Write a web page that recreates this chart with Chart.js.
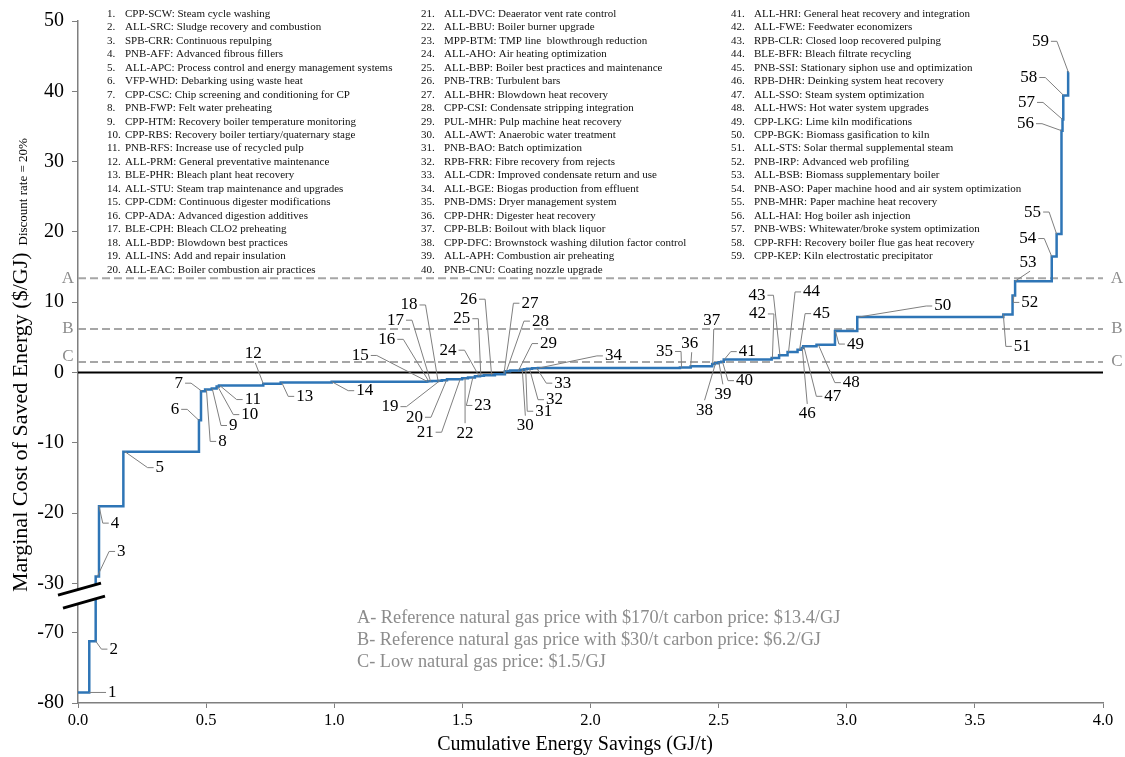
<!DOCTYPE html>
<html>
<head>
<meta charset="utf-8">
<script src="https://cdn.jsdelivr.net/npm/chart.js@4.4.1/dist/chart.umd.min.js"></script>
<style>
  html, body { margin: 0; padding: 0; background: #fff; }
  #wrap { width: 1125px; height: 757px; position: relative; }
</style>
</head>
<body>
<div id="wrap"><canvas id="chart" width="1125" height="757"></canvas></div>
<script>
// measures, in the order they are stacked on the curve
const measures = [
  "CPP-SCW: Steam cycle washing", "ALL-SRC: Sludge recovery and combustion", "SPB-CRR: Continuous repulping",
  "PNB-AFF: Advanced fibrous fillers", "ALL-APC: Process control and energy management systems",
  "VFP-WHD: Debarking using waste heat", "CPP-CSC: Chip screening and conditioning for CP",
  "PNB-FWP: Felt water preheating", "CPP-HTM: Recovery boiler temperature monitoring",
  "CPP-RBS: Recovery boiler tertiary/quaternary stage", "PNB-RFS: Increase use of recycled pulp",
  "ALL-PRM: General preventative maintenance", "BLE-PHR: Bleach plant heat recovery",
  "ALL-STU: Steam trap maintenance and upgrades", "CPP-CDM: Continuous digester modifications",
  "CPP-ADA: Advanced digestion additives", "BLE-CPH: Bleach CLO2 preheating", "ALL-BDP: Blowdown best practices",
  "ALL-INS: Add and repair insulation", "ALL-EAC: Boiler combustion air practices",
  "ALL-DVC: Deaerator vent rate control", "ALL-BBU: Boiler burner upgrade", "MPP-BTM: TMP line  blowthrough reduction",
  "ALL-AHO: Air heating optimization", "ALL-BBP: Boiler best practices and maintenance", "PNB-TRB: Turbulent bars",
  "ALL-BHR: Blowdown heat recovery", "CPP-CSI: Condensate stripping integration", "PUL-MHR: Pulp machine heat recovery",
  "ALL-AWT: Anaerobic water treatment", "PNB-BAO: Batch optimization", "RPB-FRR: Fibre recovery from rejects",
  "ALL-CDR: Improved condensate return and use", "ALL-BGE: Biogas production from effluent",
  "PNB-DMS: Dryer management system", "CPP-DHR: Digester heat recovery", "CPP-BLB: Boilout with black liquor",
  "CPP-DFC: Brownstock washing dilution factor control", "ALL-APH: Combustion air preheating",
  "PNB-CNU: Coating nozzle upgrade", "ALL-HRI: General heat recovery and integration", "ALL-FWE: Feedwater economizers",
  "RPB-CLR: Closed loop recovered pulping", "BLE-BFR: Bleach filtrate recycling",
  "PNB-SSI: Stationary siphon use and optimization", "RPB-DHR: Deinking system heat recovery",
  "ALL-SSO: Steam system optimization", "ALL-HWS: Hot water system upgrades", "CPP-LKG: Lime kiln modifications",
  "CPP-BGK: Biomass gasification to kiln", "ALL-STS: Solar thermal supplemental steam", "PNB-IRP: Advanced web profiling",
  "ALL-BSB: Biomass supplementary boiler", "PNB-ASO: Paper machine hood and air system optimization",
  "PNB-MHR: Paper machine heat recovery", "ALL-HAI: Hog boiler ash injection",
  "PNB-WBS: Whitewater/broke system optimization", "CPP-RFH: Recovery boiler flue gas heat recovery",
  "CPP-KEP: Kiln electrostatic precipitator"
];

// cumulative savings at the end of each measure (GJ/t)
const cumSavings = [
  0.044, 0.069, 0.082, 0.177, 0.472, 0.480, 0.496, 0.522, 0.541, 0.550,
  0.723, 0.791, 0.990, 1.360, 1.366, 1.372, 1.381, 1.405, 1.420, 1.440,
  1.499, 1.522, 1.549, 1.569, 1.584, 1.627, 1.666, 1.686, 1.725, 1.740,
  1.752, 1.772, 1.795, 2.349, 2.391, 2.475, 2.485, 2.500, 2.510, 2.520,
  2.707, 2.736, 2.769, 2.808, 2.824, 2.830, 2.882, 2.954, 3.041, 3.611,
  3.647, 3.657, 3.800, 3.819, 3.838, 3.842, 3.845, 3.864, 3.866
];

// marginal cost of saved energy ($/GJ)
const costs = [
  -78.5, -71.2, -29.0, -19.0, -11.25, -6.8, -2.65, -2.4, -2.27, -2.0,
  -1.85, -1.6, -1.4, -1.3, -1.27, -1.25, -1.23, -1.2, -1.15, -1.1,
  -0.95, -0.8, -0.7, -0.52, -0.45, -0.38, -0.24, 0.2, 0.28, 0.4,
  0.47, 0.55, 0.62, 0.66, 0.72, 0.9, 1.2, 1.32, 1.45, 1.55,
  1.84, 2.08, 2.46, 2.93, 3.26, 3.5, 3.73, 3.97, 5.9, 7.9,
  8.27, 10.97, 13.0, 16.5, 19.7, 34.4, 36.0, 39.4, 42.7
];

const yTickValues = [50, 40, 30, 20, 10, 0, -10, -20, -30, -70, -80];
const xTickStep = 0.5;

const refLetters = ["A", "B", "C"];
const refPrices = [13.4, 6.2, 1.5];
const refNotes = [
  "A- Reference natural gas price with $170/t carbon price: $13.4/GJ",
  "B- Reference natural gas price with $30/t carbon price: $6.2/GJ",
  "C- Low natural gas price: $1.5/GJ"
];

// label placement: [fraction along step, dx, dy, side the leader attaches to]
const labelLayout = [
  [1, 23, 0, "L"], [1, 18, 8, "L"], [0.5, 24, -25, "L"], [0, 16, 17, "L"], [0.02, 35, 16, "L"],
  [0, -24, -11, "R"], [0.2, -23, -8, "R"], [0.2, 16, 52, "L"], [0.1, 21, 37, "L"], [0.5, 32, 28, "L"],
  [0.02, 33, 14, "L"], [0, -10, -30, "B"], [0.02, 23, 14, "L"], [0, 33, 9, "L"], [0.5, -67, -26, "R"],
  [0.5, -42, -42, "R"], [0.4, -35, -61, "R"], [1, -29, -76, "R"], [0.5, -50, 26, "R"], [0.9, -32, 37, "R"],
  [0.87, -35, 53, "R"], [0.5, 0, 55, "T"], [0.7, 10, 28, "L"], [0.8, -31, -26, "R"], [0.2, -19, -57, "R"],
  [0.7, -23, -76, "R"], [0.9, 26, -71, "L"], [0.3, 34, -50, "L"], [0.85, 30, -27, "L"], [0.6, 3, 56, "T"],
  [0.6, 18, 42, "L"], [0.5, 25, 31, "L"], [0.8, 26, 15, "L"], [0.01, 74, -12, "L"], [0.15, -17, -16, "R"],
  [0, -1, -23, "B"], [0.2, -1, -44, "B"], [0.2, -11, 47, "T"], [0.1, 4, 32, "T"], [0.5, 22, 19, "L"],
  [0.01, 23, -8, "L"], [0.1, -15, -44, "R"], [0.1, -23, -60, "R"], [0.1, 23, -60, "L"], [0.5, 22, -36, "L"],
  [0.4, 5, 66, "T"], [0.05, 29, 50, "L"], [0.1, 33, 38, "L"], [0.02, 20, 13, "L"], [0.01, 84, -11, "L"],
  [0, 19, 32, "L"], [0.5, 16, 7, "L"], [0, 13, -19, "B"], [0, -24, -18, "R"], [0, -24, -22, "R"],
  [0, -36, -7, "R"], [0, -36, -17, "R"], [0.1, -35, -18, "R"], [0.5, -28, -31, "R"]
];

const SERIF = "'Liberation Serif', 'Times New Roman', serif";
const LINE_BLUE = "#2e75b6";
const GREY = "#8c8c8c";

// broken y axis: everything below -35 is shifted up by 33 units
const BREAK_AT = -35;
const BREAK_SHIFT = 33;
function toDisp(v) { return v < BREAK_AT ? v + BREAK_SHIFT : v; }
function fromDisp(d) { return d < -32 ? d - BREAK_SHIFT : d; }

// stepped curve points (each value holds from the previous end to its own end)
let curve = [{ x: 0, y: toDisp(costs[0]) }];
for (let i = 0; i < costs.length; i++) {
  curve.push({ x: cumSavings[i], y: toDisp(costs[i]) });
}

const overlayPlugin = {
  id: "overlay",
  beforeDatasetsDraw(chart) {
    const ctx = chart.ctx;
    const area = chart.chartArea;
    const ys = chart.scales.y;
    ctx.save();
    // reference price lines
    ctx.strokeStyle = "#a6a6a6";
    ctx.lineWidth = 2;
    ctx.setLineDash([8, 4]);
    for (let i = 0; i < refPrices.length; i++) {
      let py = ys.getPixelForValue(refPrices[i]);
      ctx.beginPath();
      ctx.moveTo(area.left, py);
      ctx.lineTo(area.right, py);
      ctx.stroke();
    }
    ctx.setLineDash([]);
    // zero line
    let y0 = ys.getPixelForValue(0);
    ctx.strokeStyle = "#000";
    ctx.lineWidth = 2;
    ctx.beginPath();
    ctx.moveTo(area.left, y0);
    ctx.lineTo(area.right, y0);
    ctx.stroke();
    ctx.restore();
  },
  afterDatasetsDraw(chart) {
    const ctx = chart.ctx;
    const area = chart.chartArea;
    const xs = chart.scales.x;
    const ys = chart.scales.y;
    ctx.save();

    // axis break
    let ax = area.left;
    let yb = ys.getPixelForValue(-31.8);
    ctx.fillStyle = "#fff";
    ctx.beginPath();
    ctx.moveTo(ax - 20, yb - 1);
    ctx.lineTo(ax + 23, yb - 13);
    ctx.lineTo(ax + 27, yb);
    ctx.lineTo(ax - 15, yb + 12);
    ctx.closePath();
    ctx.fill();
    ctx.strokeStyle = "#000";
    ctx.lineWidth = 3;
    ctx.beginPath();
    ctx.moveTo(ax - 20, yb - 1);
    ctx.lineTo(ax + 23, yb - 13);
    ctx.moveTo(ax - 15, yb + 12);
    ctx.lineTo(ax + 27, yb);
    ctx.stroke();

    // measure number labels with leader lines
    ctx.font = "17px " + SERIF;
    ctx.textAlign = "center";
    ctx.textBaseline = "middle";
    ctx.lineWidth = 1;
    for (let i = 0; i < costs.length; i++) {
      let [f, dx, dy, side] = labelLayout[i];
      let x0 = i == 0 ? 0 : cumSavings[i - 1];
      let ax1 = xs.getPixelForValue(x0 + f * (cumSavings[i] - x0));
      let ay1 = ys.getPixelForValue(toDisp(costs[i]));
      let lx = ax1 + dx;
      let ly = ay1 + dy;
      let txt = String(i + 1);
      let w = ctx.measureText(txt).width;
      ctx.strokeStyle = "#7f7f7f";
      ctx.beginPath();
      ctx.moveTo(ax1, ay1);
      if (side == "L") {
        let ex = lx - w / 2 - 2;
        ctx.lineTo(ex - 6, ly);
        ctx.lineTo(ex, ly);
      } else if (side == "R") {
        let ex = lx + w / 2 + 2;
        ctx.lineTo(ex + 6, ly);
        ctx.lineTo(ex, ly);
      } else if (side == "B") {
        ctx.lineTo(lx + 2, ly + 9);
      } else {
        ctx.lineTo(lx, ly - 10);
      }
      ctx.stroke();
      ctx.fillStyle = "#000";
      ctx.fillText(txt, lx, ly);
    }

    // A / B / C markers on both sides
    ctx.fillStyle = GREY;
    ctx.font = "17px " + SERIF;
    for (let i = 0; i < refLetters.length; i++) {
      let py = ys.getPixelForValue(refPrices[i]);
      ctx.textAlign = "center";
      ctx.fillText(refLetters[i], area.left - 10, py - (i == 2 ? 5 : 0));
      ctx.fillText(refLetters[i], area.right + 14, py);
    }

    // notes
    ctx.font = "18.3px " + SERIF;
    ctx.textAlign = "left";
    for (let i = 0; i < refNotes.length; i++) {
      ctx.fillText(refNotes[i], 357, 618 + i * 22);
    }

    // measure list in three columns
    ctx.fillStyle = "#111";
    ctx.font = "11px " + SERIF;
    const colNum = [107, 421, 731];
    const colName = [125, 444, 754];
    for (let i = 0; i < measures.length; i++) {
      let c = Math.floor(i / 20);
      let r = i % 20;
      let py = 14 + r * 13.46;
      ctx.fillText((i + 1) + ".", colNum[c], py);
      ctx.fillText(measures[i], colName[c], py);
    }

    // axis titles
    ctx.fillStyle = "#000";
    ctx.font = "20px " + SERIF;
    ctx.textAlign = "center";
    ctx.fillText("Cumulative Energy Savings (GJ/t)", 575, 745);

    ctx.translate(27, 592);
    ctx.rotate(-Math.PI / 2);
    ctx.textAlign = "left";
    ctx.textBaseline = "alphabetic";
    ctx.font = "22px " + SERIF;
    let main = "Marginal Cost of Saved Energy ($/GJ)";
    ctx.fillText(main, 0, 0);
    let mw = ctx.measureText(main).width;
    ctx.font = "13px " + SERIF;
    ctx.fillText("Discount rate = 20%", mw + 7, 0);
    ctx.restore();
  }
};

new Chart(document.getElementById("chart"), {
  type: "line",
  data: {
    datasets: [{
      data: curve,
      stepped: "after",
      borderColor: LINE_BLUE,
      borderWidth: 2.5,
      pointRadius: 0,
      fill: false,
    }],
  },
  options: {
    responsive: false,
    animation: false,
    devicePixelRatio: 1,
    layout: { padding: { top: 21, right: 22, left: 0, bottom: 0 } },
    plugins: { legend: { display: false }, tooltip: { enabled: false } },
    scales: {
      x: {
        type: "linear",
        min: 0,
        max: 4,
        afterFit: (axis) => { axis.height = 54; },
        ticks: {
          stepSize: xTickStep,
          callback: (v) => v.toFixed(1),
          font: { family: SERIF, size: 16.5 },
          color: "#000",
          padding: 3,
          maxRotation: 0,
        },
        grid: { drawOnChartArea: false, tickLength: 5, color: "#7f7f7f" },
        border: { color: "#7f7f7f", width: 1.5 },
      },
      y: {
        type: "linear",
        min: toDisp(-80),
        max: 50,
        afterFit: (axis) => { axis.width = 78; },
        afterBuildTicks: (axis) => {
          axis.ticks = yTickValues.map((v) => ({ value: toDisp(v) }));
        },
        ticks: {
          callback: (v) => String(fromDisp(v)),
          font: { family: SERIF, size: 20 },
          color: "#000",
          padding: 8,
          autoSkip: false,
        },
        grid: { drawOnChartArea: false, tickLength: 6, color: "#7f7f7f" },
        border: { color: "#7f7f7f", width: 1.5 },
      },
    },
  },
  plugins: [overlayPlugin],
});
</script>
</body>
</html>
